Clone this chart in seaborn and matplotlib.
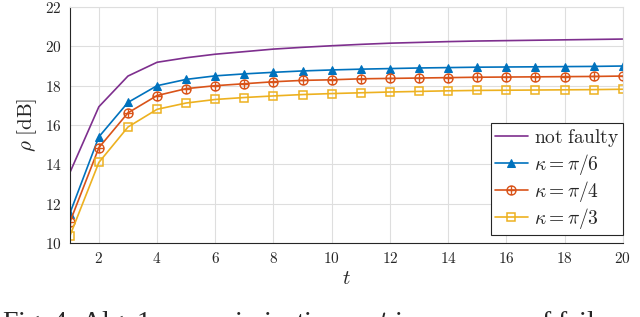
import numpy as np
import pandas as pd
import matplotlib
matplotlib.use("Agg")
import matplotlib.pyplot as plt
from matplotlib.path import Path
import seaborn as sns

t = list(range(1, 21))

not_faulty = [13.57, 16.93, 18.49, 19.19, 19.42, 19.6, 19.73, 19.86, 19.95, 20.03,
              20.1, 20.16, 20.2, 20.24, 20.27, 20.29, 20.31, 20.33, 20.35, 20.37]
kappa_pi6 = [11.5, 15.4, 17.15, 18.0, 18.32, 18.5, 18.6, 18.68, 18.75, 18.8,
             18.84, 18.87, 18.9, 18.92, 18.94, 18.95, 18.96, 18.97, 18.98, 19.0]
kappa_pi4 = [11.05, 14.85, 16.62, 17.5, 17.85, 18.0, 18.1, 18.2, 18.27, 18.3,
             18.35, 18.37, 18.39, 18.41, 18.43, 18.44, 18.45, 18.46, 18.47, 18.49]
kappa_pi3 = [10.35, 14.1, 15.9, 16.8, 17.12, 17.3, 17.4, 17.48, 17.55, 17.6,
             17.64, 17.68, 17.71, 17.74, 17.76, 17.77, 17.78, 17.79, 17.8, 17.82]

labels = [r"$\mathrm{not\ faulty}$", r"$\kappa=\pi/6$", r"$\kappa=\pi/4$", r"$\kappa=\pi/3$"]
colors = ["#7E2F8E", "#0072BD", "#D95319", "#EDB120"]

x_ticks = list(range(2, 21, 2))
y_ticks = list(range(10, 23, 2))

sns.set_style("white")
plt.rcParams["mathtext.fontset"] = "cm"
plt.rcParams["font.family"] = ["DejaVu Serif"]

# circle with a plus inside (MATLAB-like "circled plus" marker)
cross = Path([[-1, 0], [1, 0], [0, -1], [0, 1]],
             [Path.MOVETO, Path.LINETO, Path.MOVETO, Path.LINETO])
oplus = Path.make_compound_path(Path.unit_circle(), cross)

fig = plt.figure(figsize=(6.4, 3.17), dpi=100)
ax = fig.add_axes([0.109, 0.233, 0.864, 0.745])

sns.lineplot(x=t, y=not_faulty, ax=ax, color=colors[0], lw=1.2, label=labels[0])
sns.lineplot(x=t, y=kappa_pi6, ax=ax, color=colors[1], lw=1.2, marker="^",
             markersize=6, markeredgecolor=colors[1], label=labels[1])
sns.lineplot(x=t, y=kappa_pi4, ax=ax, color=colors[2], lw=1.2, marker=oplus,
             markersize=6.5, markerfacecolor="none", markeredgewidth=1.0,
             markeredgecolor=colors[2], label=labels[2])
sns.lineplot(x=t, y=kappa_pi3, ax=ax, color=colors[3], lw=1.2, marker="s",
             markersize=5.5, markerfacecolor="none", markeredgecolor=colors[3],
             markeredgewidth=1.1, label=labels[3])

ax.set_xlim(1, 20)
ax.set_ylim(10, 22)
ax.set_xticks(x_ticks)
ax.set_yticks(y_ticks)
ax.set_xticklabels([f"${v}$" for v in x_ticks], fontsize=11)
ax.set_yticklabels([f"${v}$" for v in y_ticks], fontsize=11)
ax.grid(True, color="#dedede", lw=0.8)
ax.tick_params(direction="in", length=3, width=0.6, color="#262626", pad=6)
for s in ["top", "right"]:
    ax.spines[s].set_color("#dedede")
for s in ["left", "bottom"]:
    ax.spines[s].set_color("#262626")
    ax.spines[s].set_linewidth(0.8)

ax.set_xlabel(r"$t$", fontsize=15, labelpad=2)
ax.set_ylabel(r"$\rho\ \mathrm{[dB]}$", fontsize=15, labelpad=4)

leg = ax.legend(loc="lower right", bbox_to_anchor=(1.0, 0.034), fontsize=14,
                frameon=True, fancybox=False, edgecolor="#262626", framealpha=1,
                borderpad=0.2, labelspacing=0.12, handlelength=1.7,
                handletextpad=0.3, borderaxespad=0.0)
leg.get_frame().set_linewidth(0.8)

fig.text(0.003, 1 - 309 / 317, r"Fig. 4: Alg. 1: $\rho$ maximization vs $t$ in presence of failures",
         fontsize=20, family="Liberation Serif", va="top", ha="left")

fig.savefig("out.png", dpi=100)
